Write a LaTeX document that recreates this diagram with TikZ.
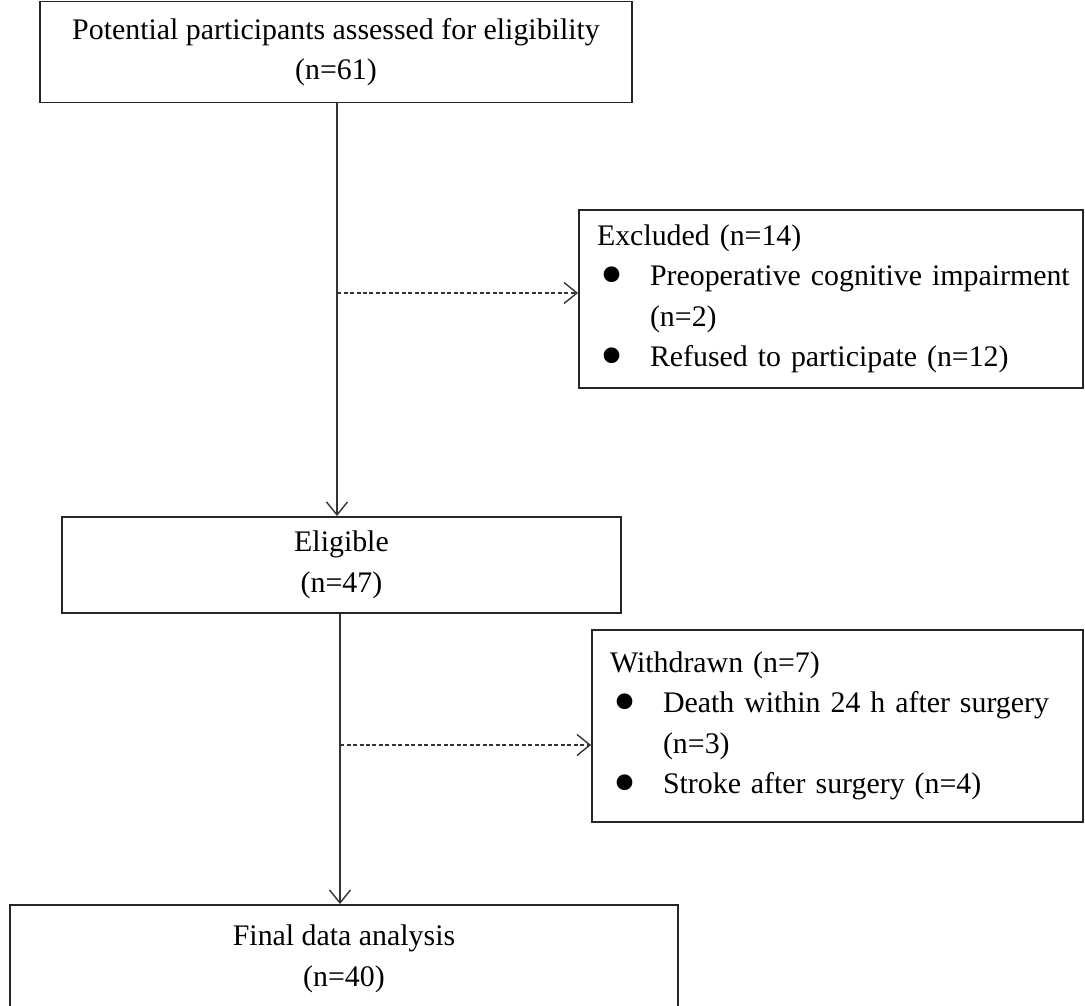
\documentclass[tikz,border=0pt]{standalone}
\usepackage{fontspec}
\setmainfont{Liberation Serif}
\usepackage{graphicx}
\usetikzlibrary{arrows.meta,positioning}
\newcommand{\bitem}{\makebox[1.06cm][l]{\hspace{0.06cm}\smash{\raisebox{-0.75ex}{\scalebox{2.2}{\textbullet}}}}}

\begin{document}
\begin{tikzpicture}[x=0.02cm, y=-0.02cm,
    box/.style={rectangle, draw=black!85, line width=1.1pt, fill=white,
      align=center, font=\fontsize{17}{23}\selectfont},
    listbox/.style={box, align=left, inner xsep=0.36cm},
    arr/.style={draw=black!80, line width=0.8pt,
      -{Straight Barb[length=2.6mm, width=4.2mm]}},
    dasharr/.style={arr, dash pattern=on 0.08cm off 0.05cm}]
  \clip (0,0) rectangle (1085,1006);

  % boxes
  \node[box, minimum width=11.84cm, minimum height=2.02cm] (pot) at (336,52)
    {Potential participants assessed for eligibility\\(n=61)};
  \node[listbox, text width=9.36cm, minimum height=3.56cm] (excl) at (831,299)
    {Excluded (n=14)\\
     \bitem\mbox{Preoperative cognitive impairment}\\
     \hspace*{1.06cm}(n=2)\\
     \bitem\mbox{Refused to participate (n=12)}};
  \node[box, minimum width=11.18cm, minimum height=1.92cm] (elig) at (341.5,565)
    {Eligible\\(n=47)};
  \node[listbox, text width=9.10cm, minimum height=3.84cm] (wdr) at (837.5,726)
    {Withdrawn (n=7)\\
     \bitem\mbox{Death within 24 h after surgery}\\
     \hspace*{1.06cm}(n=3)\\
     \bitem\mbox{Stroke after surgery (n=4)}};
  \node[box, minimum width=13.36cm, minimum height=2.16cm] (final) at (344,959)
    {Final data analysis\\(n=40)};

  % flow
  \coordinate (j1) at (337,293);
  \coordinate (j2) at (340,745);
  \draw[arr] (j1 |- pot.south) -- (j1 |- elig.north);
  \draw[dasharr] (j1) -- (j1 -| excl.west);
  \draw[arr] (j2 |- elig.south) -- (j2 |- final.north);
  \draw[dasharr] (j2) -- (j2 -| wdr.west);
\end{tikzpicture}
\end{document}
